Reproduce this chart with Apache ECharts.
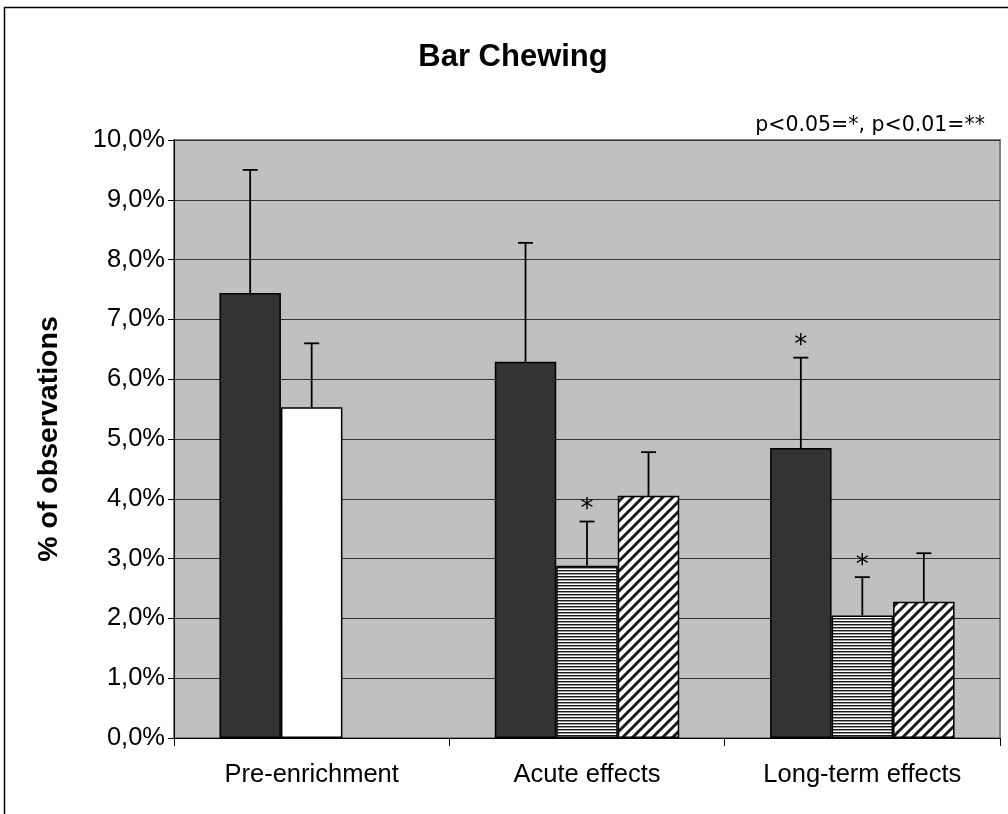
<!DOCTYPE html>
<html>
<head>
<meta charset="utf-8">
<script src="https://cdn.jsdelivr.net/npm/echarts@6/dist/echarts.min.js"></script>
<style>
  html, body { margin: 0; padding: 0; background: #fff; }
  #chart { width: 1008px; height: 814px; }
</style>
</head>
<body>
<div id="chart"></div>
<script>
// ---- data ----
const categories = ['Pre-enrichment', 'Acute effects', 'Long-term effects'];
const baselineVals = [7.44, 6.29, 4.85];
const enrichAVals = [5.53, 2.88, 2.05];
const enrichBVals = [null, 4.05, 2.28];
const baselineErr = [2.06, 1.99, 1.51];
const enrichAErr = [1.07, 0.74, 0.64];
const enrichBErr = [null, 0.73, 0.81];
const baselineSig = ['', '', '*'];
const enrichASig = ['', '*', '*'];
const enrichBSig = ['', '', ''];
const titleText = 'Bar Chewing';
const yAxisTitle = '% of observations';
const noteText = 'p<0.05=*, p<0.01=**';

// ---- patterns ----
function hStripes() {
  const c = document.createElement('canvas');
  c.width = 4; c.height = 3;
  const g = c.getContext('2d');
  g.fillStyle = '#ffffff'; g.fillRect(0, 0, 4, 3);
  g.fillStyle = '#1a1a1a'; g.fillRect(0, 0, 4, 1);
  g.fillStyle = '#999999'; g.fillRect(0, 1, 4, 1);
  return c;
}
function dStripes() {
  const c = document.createElement('canvas');
  const s = 10;
  c.width = s; c.height = s;
  const g = c.getContext('2d');
  g.fillStyle = '#ffffff'; g.fillRect(0, 0, s, s);
  g.strokeStyle = '#1a1a1a'; g.lineWidth = 3;
  g.beginPath();
  g.moveTo(-s, s); g.lineTo(s, -s);
  g.moveTo(0, 2 * s); g.lineTo(2 * s, 0);
  g.moveTo(0, s); g.lineTo(s, 0);
  g.stroke();
  return c;
}
const hPat = { image: hStripes(), repeat: 'repeat' };
const dPat = { image: dStripes(), repeat: 'repeat' };

// ---- error-bar data ----
const GAP = 0.33;
const errData = [];
const errSig = [];
[[baselineVals, baselineErr, baselineSig],
 [enrichAVals, enrichAErr, enrichASig],
 [enrichBVals, enrichBErr, enrichBSig]].forEach(function (grp, slot) {
  grp[0].forEach(function (v, i) {
    if (v == null) return;
    errData.push([i, v, grp[1][i], slot]);
    errSig.push(grp[2][i]);
  });
});

const chart = echarts.init(document.getElementById('chart'), null, { renderer: 'canvas' });
const ARIAL = '"Liberation Sans", Arial, sans-serif';

const option = {
  animation: false,
  backgroundColor: '#ffffff',
  grid: {
    left: 174, right: 8, top: 140, bottom: 76,
    show: true, backgroundColor: '#c0c0c0', borderColor: '#808080', borderWidth: 2
  },
  xAxis: {
    type: 'category',
    data: categories,
    axisLine: { lineStyle: { color: '#000', width: 1 } },
    axisTick: { show: true, length: 8, lineStyle: { color: '#000', width: 1 } },
    axisLabel: { color: '#000', fontSize: 25.5, fontFamily: ARIAL, margin: 24 },
    splitLine: { show: false }
  },
  yAxis: {
    type: 'value',
    min: 0, max: 10, interval: 1,
    name: yAxisTitle,
    nameLocation: 'middle',
    nameGap: 110,
    nameRotate: 90,
    nameTextStyle: { color: '#000', fontSize: 28.5, fontWeight: 'bold', fontFamily: ARIAL },
    axisLine: { show: true, lineStyle: { color: '#000', width: 1 } },
    axisTick: { show: true, length: 6, lineStyle: { color: '#000', width: 1 } },
    axisLabel: {
      color: '#000', fontSize: 25.5, fontFamily: ARIAL, margin: 9,
      formatter: function (v) { return v.toFixed(1).replace('.', ',') + '%'; }
    },
    splitLine: { show: true, lineStyle: { color: '#333', width: 1 } }
  },
  graphic: [
    { type: 'rect', z: 100, shape: { x: 4.5, y: 7.5, width: 1100, height: 1000 },
      style: { fill: 'none', stroke: '#000', lineWidth: 1.5 } },
    { type: 'text', z: 100, x: 513, y: 57,
      style: { text: titleText, fontSize: 31, fontWeight: 'bold', fontFamily: ARIAL,
               fill: '#000', align: 'center', verticalAlign: 'middle' } },
    { type: 'text', z: 100, x: 985, y: 126,
      style: { text: noteText, fontSize: 20.5, fontFamily: '"DejaVu Sans", sans-serif',
               fill: '#000', align: 'right', verticalAlign: 'middle' } }
  ],
  series: [
    {
      type: 'bar', name: 'Baseline',
      data: baselineVals,
      barGap: '0%', barCategoryGap: (GAP * 100) + '%',
      itemStyle: { color: '#333333', borderColor: '#000', borderWidth: 1.5 }
    },
    {
      type: 'bar', name: 'Enrichment A',
      data: enrichAVals.map(function (v, i) {
        return { value: v, itemStyle: { color: i === 0 ? '#ffffff' : hPat } };
      }),
      barGap: '0%', barCategoryGap: (GAP * 100) + '%',
      itemStyle: { borderColor: '#000', borderWidth: 1.5 }
    },
    {
      type: 'bar', name: 'Enrichment B',
      data: enrichBVals,
      barGap: '0%', barCategoryGap: (GAP * 100) + '%',
      itemStyle: { color: dPat, borderColor: '#000', borderWidth: 1.5 }
    },
    {
      type: 'custom', name: 'Error',
      z: 10,
      data: errData,
      encode: { x: 0, y: 1 },
      renderItem: function (params, api) {
        const cat = api.value(0), v = api.value(1), e = api.value(2), slot = api.value(3);
        const catW = api.size([1, 0])[0];
        const barW = catW * (1 - GAP) / 3;
        const base = api.coord([cat, v]);
        const top = api.coord([cat, v + e]);
        const x = base[0] + (slot - 1) * barW;
        const children = [
          { type: 'line', shape: { x1: x, y1: base[1], x2: x, y2: top[1] },
            style: { stroke: '#000', lineWidth: 1.8 } },
          { type: 'line', shape: { x1: x - 7.5, y1: top[1], x2: x + 7.5, y2: top[1] },
            style: { stroke: '#000', lineWidth: 1.8 } }
        ];
        const s = errSig[params.dataIndex];
        if (s) {
          children.push({ type: 'text', x: x, y: top[1] - 11,
            style: { text: s, fontSize: 26, fontFamily: '"DejaVu Sans", sans-serif',
                     fill: '#000', align: 'center', verticalAlign: 'middle' } });
        }
        return { type: 'group', children: children };
      }
    }
  ]
};
chart.setOption(option);
</script>
</body>
</html>
